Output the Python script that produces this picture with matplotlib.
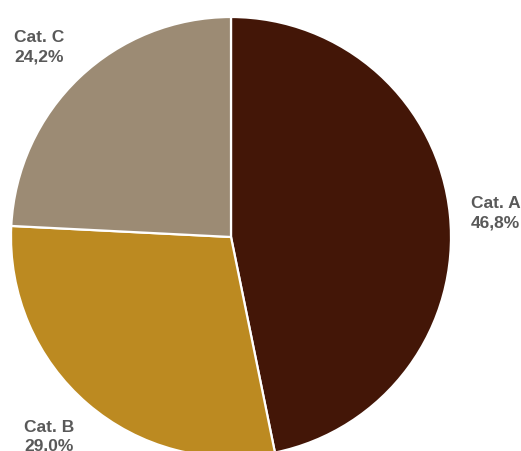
import matplotlib
matplotlib.use("Agg")
import matplotlib.pyplot as plt
import matplotlib.transforms as mtransforms

categories = ["Cat. A", "Cat. B", "Cat. C"]
values = [46.8, 29.0, 24.2]
pct_labels = ["46,8%", "29.0%", "24,2%"]
colors = ["#431607", "#BC8A21", "#9C8B74"]

fig = plt.figure(figsize=(5.21, 4.51), dpi=100)
ax = fig.add_axes([0, 0, 1, 1])
labels = [f"{c}\n{p}" for c, p in zip(categories, pct_labels)]
wedges, texts = ax.pie(values, labels=labels, colors=colors, startangle=90,
                       counterclock=False, radius=1.0, labeldistance=1.21,
                       wedgeprops=dict(edgecolor="white", linewidth=1.6),
                       textprops=dict(fontsize=12.5, fontweight="bold", color="#595959",
                                      family=["Liberation Sans", "DejaVu Sans"]))
for t in texts:
    t.set_horizontalalignment("center")
    t.set_multialignment("left")
    t.set_linespacing(1.32)
    x, y = t.get_position()
    dx = -8 if x < 0 else 0
    dy = -3 if y > 0 else 2
    t.set_transform(ax.transData + mtransforms.ScaledTranslation(dx / 100, dy / 100, fig.dpi_scale_trans))
ax.set_aspect("auto")
ax.set_xlim(-231 / 220, (521 - 231) / 220)
ax.set_ylim(-214 / 220, 237 / 220)
ax.axis("off")
fig.savefig("out.png", dpi=100)
